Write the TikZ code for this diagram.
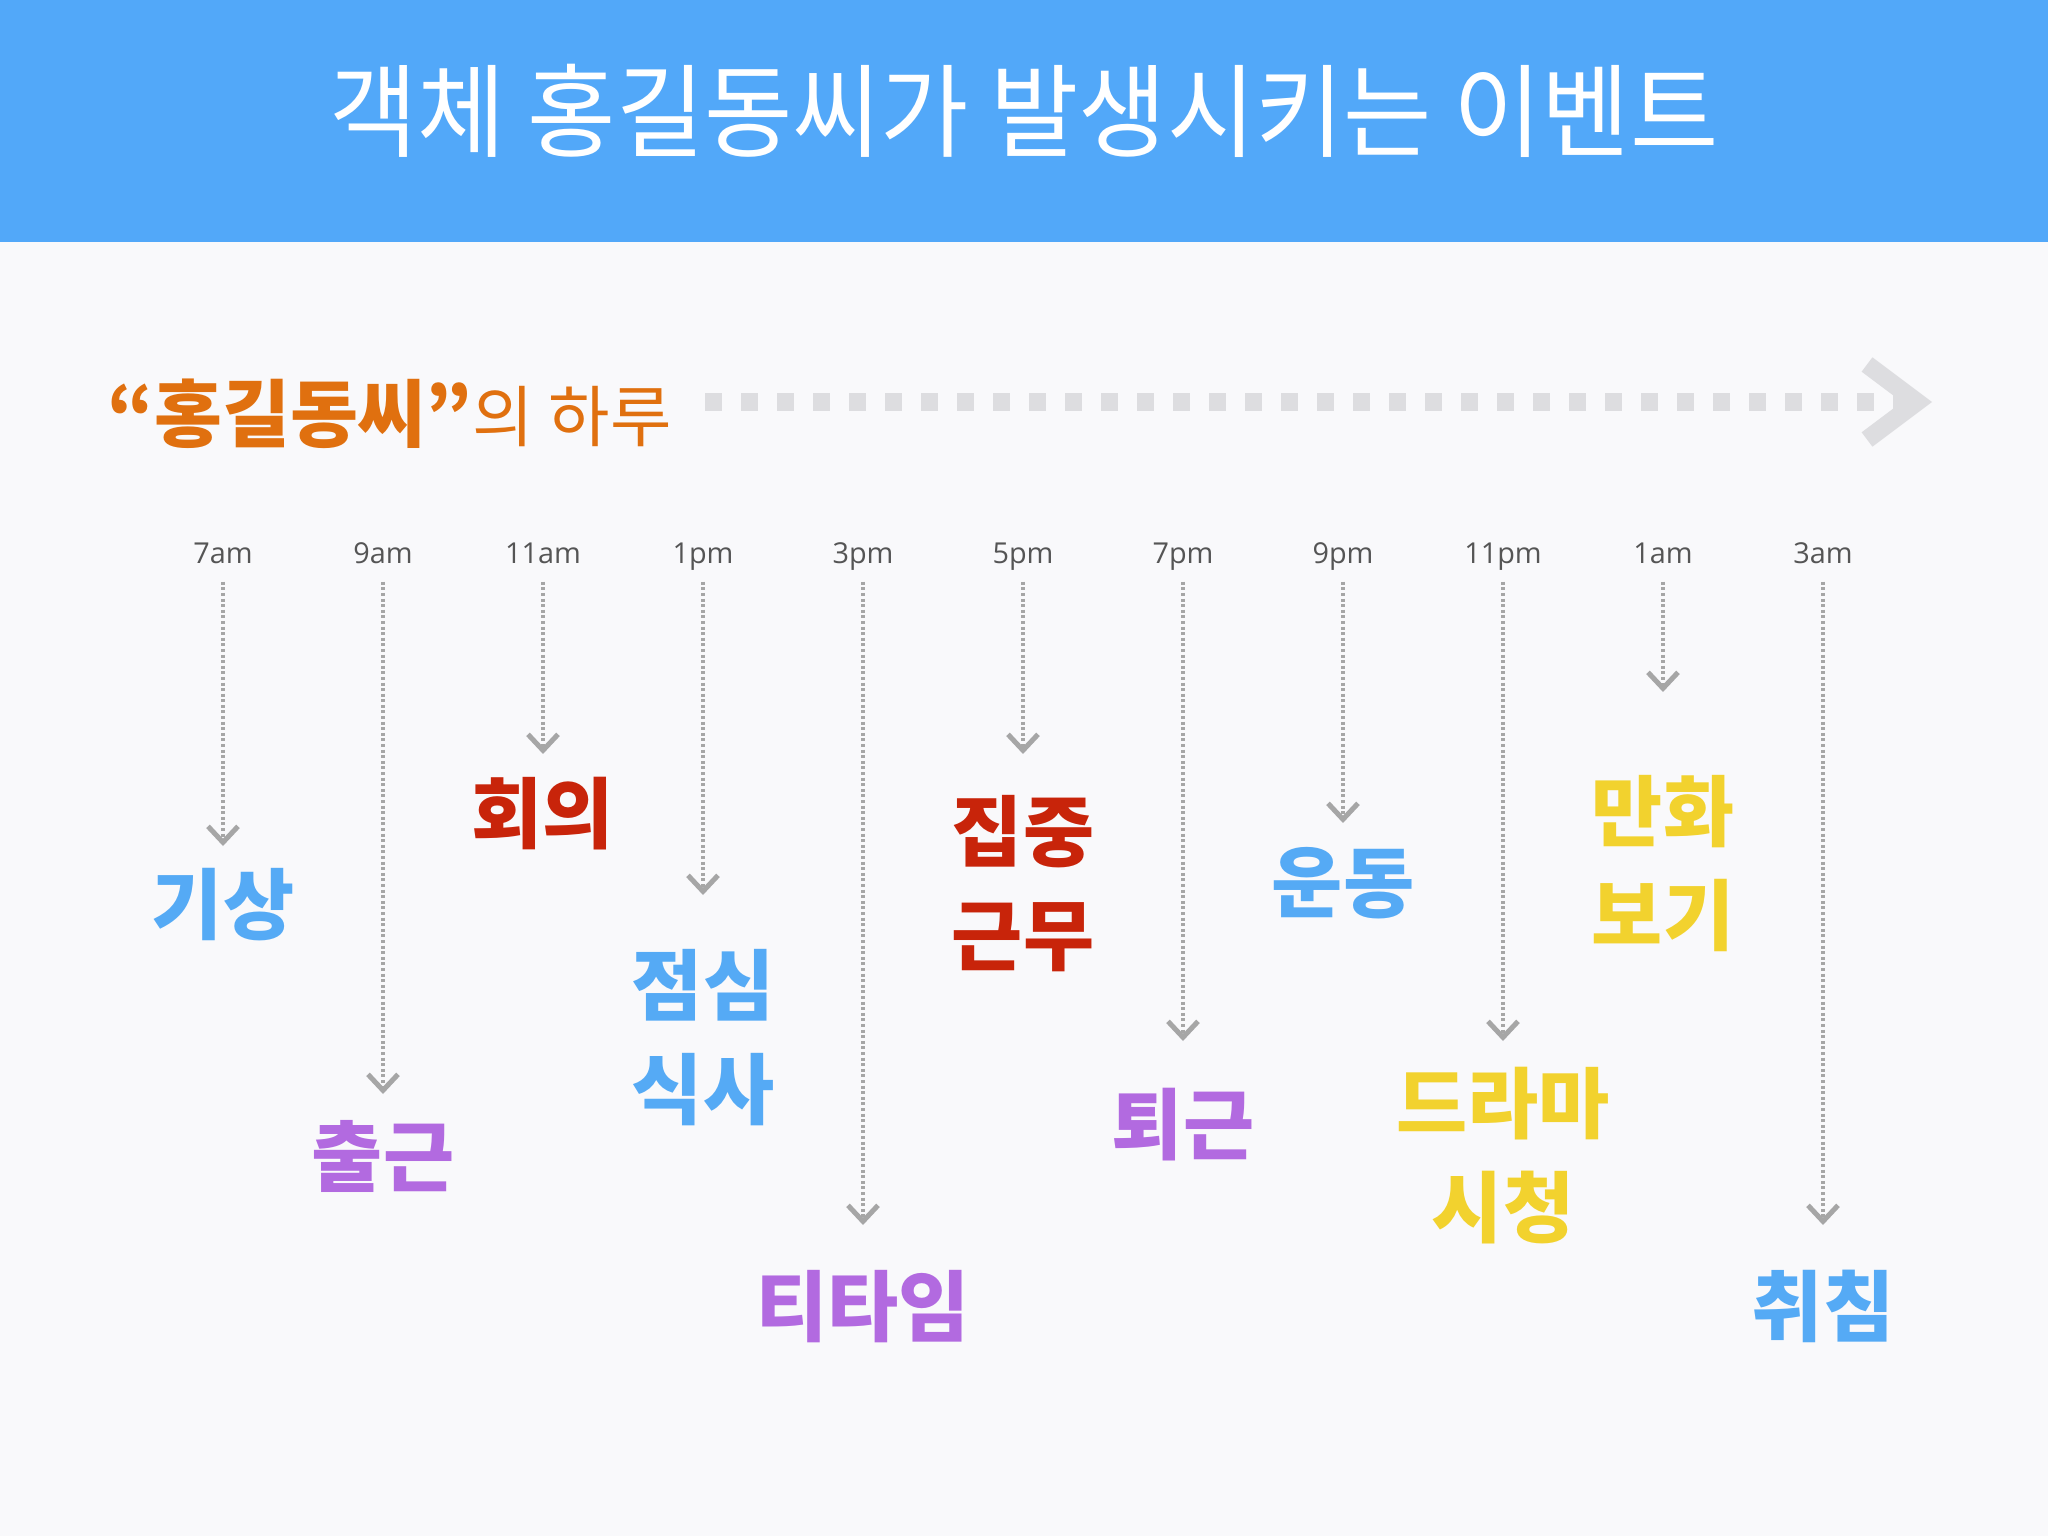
\documentclass[tikz,border=0pt]{standalone}
\usepackage{fontspec}
\usepackage{graphicx}
\usepackage{xcolor}
\usetikzlibrary{arrows.meta}
\setmainfont{Open Sans}
\newfontfamily\kr{Noto Sans CJK KR}
\definecolor{bgc}{HTML}{F9F9FB}
\definecolor{headc}{HTML}{52A8F9}
\definecolor{orng}{HTML}{E0700F}
\definecolor{evblue}{HTML}{55AAF5}
\definecolor{evred}{HTML}{C8240A}
\definecolor{evpurp}{HTML}{B26AE0}
\definecolor{evyell}{HTML}{F2D22E}
\definecolor{tgray}{HTML}{555555}
\definecolor{lgray}{HTML}{A6A6A6}
\definecolor{agray}{HTML}{DDDDE0}
\newcommand{\evfont}{\kr\fontsize{22}{29.6}\selectfont\bfseries}

\begin{document}
\begin{tikzpicture}[
    time/.style={anchor=base, inner sep=0pt, text height=0.25cm, text depth=0.18cm, text=tgray, font=\fontsize{8.2}{10}\selectfont},
    ev/.style={align=center, inner sep=0pt, font=\evfont},
    tick/.style={lgray, line width=0.036cm, dash pattern=on 0.03cm off 0.026cm, -{Straight Barb[length=0.16cm, width=0.3cm, line width=0.05cm]}},
    bigarrow/.style={agray, line width=0.18cm, dash pattern=on 0.17cm off 0.19cm, -{Straight Barb[length=0.5cm, width=0.75cm]}}
    ]
        \useasboundingbox (0,0) rectangle (20.48,-15.36);
        \fill[bgc] (0,0) rectangle (20.48,-15.36);
        \fill[headc] (0,0) rectangle (20.48,-2.42);

        \node[text=white] (title) at (10.24,-1.11) {\kr\fontsize{27.3}{32}\selectfont\scalebox{1}[1.06]{객체 홍길동씨가 발생시키는 이벤트}};

        \node[anchor=base west, inner sep=0pt, text=orng] (day) at (1.07,-4.41) {\kr\fontsize{21}{26}\selectfont\bfseries “홍길동씨”\fontsize{19}{23}\selectfont\mdseries 의 하루};
        \coordinate (daystart) at (7.05,-4.02);
        \coordinate (dayend) at (19.32,-4.02);
        \draw[bigarrow] (daystart) -- (dayend);

        \node[time] (t7am) at (2.23,-5.63) {7am};
        \node[time] (t9am) at (3.83,-5.63) {9am};
        \node[time] (t11am) at (5.43,-5.63) {11am};
        \node[time] (t1pm) at (7.03,-5.63) {1pm};
        \node[time] (t3pm) at (8.63,-5.63) {3pm};
        \node[time] (t5pm) at (10.23,-5.63) {5pm};
        \node[time] (t7pm) at (11.83,-5.63) {7pm};
        \node[time] (t9pm) at (13.43,-5.63) {9pm};
        \node[time] (t11pm) at (15.03,-5.63) {11pm};
        \node[time] (t1am) at (16.63,-5.63) {1am};
        \node[time] (t3am) at (18.23,-5.63) {3am};

        \coordinate (k7am) at (2.23,-8.46);
        \coordinate (k9am) at (3.83,-10.94);
        \coordinate (k11am) at (5.43,-7.54);
        \coordinate (k1pm) at (7.03,-8.95);
        \coordinate (k3pm) at (8.63,-12.25);
        \coordinate (k5pm) at (10.23,-7.54);
        \coordinate (k7pm) at (11.83,-10.41);
        \coordinate (k9pm) at (13.43,-8.23);
        \coordinate (k11pm) at (15.03,-10.41);
        \coordinate (k1am) at (16.63,-6.92);
        \coordinate (k3am) at (18.23,-12.25);

        \draw[tick] (t7am.south) -- (k7am);
        \draw[tick] (t9am.south) -- (k9am);
        \draw[tick] (t11am.south) -- (k11am);
        \draw[tick] (t1pm.south) -- (k1pm);
        \draw[tick] (t3pm.south) -- (k3pm);
        \draw[tick] (t5pm.south) -- (k5pm);
        \draw[tick] (t7pm.south) -- (k7pm);
        \draw[tick] (t9pm.south) -- (k9pm);
        \draw[tick] (t11pm.south) -- (k11pm);
        \draw[tick] (t1am.south) -- (k1am);
        \draw[tick] (t3am.south) -- (k3am);

        \node[ev, text=evblue] (wake) at (2.23,-9.05) {기상};
        \node[ev, text=evpurp] (commute) at (3.83,-11.56) {출근};
        \node[ev, text=evred] (meeting) at (5.43,-8.14) {회의};
        \node[ev, text=evblue] (lunch) at (7.03,-10.38) {점심\\식사};
        \node[ev, text=evpurp] (teatime) at (8.63,-13.07) {티타임};
        \node[ev, text=evred] (focus) at (10.23,-8.84) {집중\\근무};
        \node[ev, text=evpurp] (leave) at (11.83,-11.25) {퇴근};
        \node[ev, text=evblue] (workout) at (13.43,-8.83) {운동};
        \node[ev, text=evyell] (drama) at (15.03,-11.56) {드라마\\시청};
        \node[ev, text=evyell] (comic) at (16.63,-8.64) {만화\\보기};
        \node[ev, text=evblue] (sleep) at (18.23,-13.06) {취침};

    \end{tikzpicture}
\end{document}
